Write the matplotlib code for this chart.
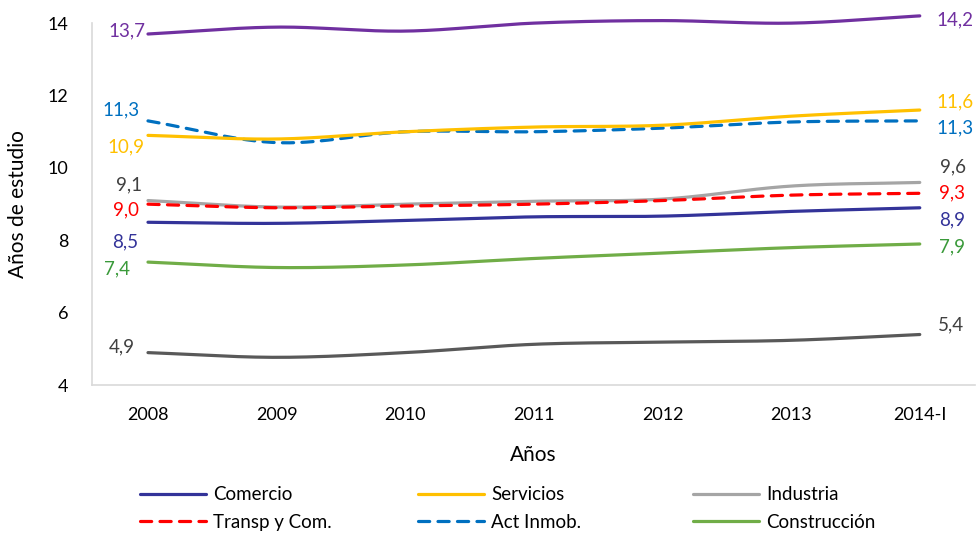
import numpy as np
import matplotlib
matplotlib.use("Agg")
import matplotlib.pyplot as plt

plt.rcParams['font.family'] = ['Lato', 'DejaVu Sans']

years = ["2008", "2009", "2010", "2011", "2012", "2013", "2014-I"]

comercio = [8.5, 8.47, 8.55, 8.65, 8.67, 8.8, 8.9]
servicios = [10.9, 10.8, 11.0, 11.13, 11.18, 11.43, 11.6]
industria = [9.1, 8.92, 9.0, 9.08, 9.14, 9.5, 9.6]
transp = [9.0, 8.9, 8.95, 9.0, 9.1, 9.25, 9.3]
act_inmob = [11.3, 10.7, 11.0, 11.0, 11.1, 11.27, 11.3]
construccion = [7.4, 7.25, 7.32, 7.5, 7.65, 7.8, 7.9]
purple_serie = [13.7, 13.89, 13.78, 14.0, 14.07, 14.0, 14.2]
gris_serie = [4.9, 4.77, 4.9, 5.13, 5.19, 5.24, 5.4]


def smooth(y, n=30):
    # catmull-rom style curve like excel "smoothed line"
    y = np.asarray(y, float)
    x = np.arange(len(y), dtype=float)
    px = np.concatenate([[2*x[0]-x[1]], x, [2*x[-1]-x[-2]]])
    py = np.concatenate([[2*y[0]-y[1]], y, [2*y[-1]-y[-2]]])
    xs, ys = [], []
    for i in range(1, len(px)-2):
        t = np.linspace(0, 1, n, endpoint=(i == len(px)-3))
        t2, t3 = t*t, t*t*t
        for arr, out in ((px, xs), (py, ys)):
            p0, p1, p2, p3 = arr[i-1], arr[i], arr[i+1], arr[i+2]
            out.append(0.5*((2*p1) + (-p0+p2)*t + (2*p0-5*p1+4*p2-p3)*t2 + (-p0+3*p1-3*p2+p3)*t3))
    return np.concatenate(xs), np.concatenate(ys)


fig = plt.figure(figsize=(9.79, 5.38), dpi=100)
ax = fig.add_axes([0.094, 0.284, 0.902, 0.673])

lw = 2.3
series = [
    # values, color, dashed, legend label, label color, left offset, right offset
    (purple_serie, '#7030A0', False, None, '#7030A0', (-0.16, 0.08), (0.27, -0.12)),
    (act_inmob, '#0070C0', True, 'Act Inmob.', '#0070C0', (-0.21, 0.3), (0.27, -0.2)),
    (servicios, '#FFC000', False, 'Servicios', '#FFC000', (-0.17, -0.33), (0.27, 0.22)),
    (industria, '#A5A5A5', False, 'Industria', '#404040', (-0.15, 0.42), (0.26, 0.42)),
    (transp, '#FF0000', True, 'Transp y Com.', '#FF0000', (-0.17, -0.17), (0.25, 0.0)),
    (comercio, '#333399', False, 'Comercio', '#333399', (-0.18, -0.55), (0.25, -0.34)),
    (construccion, '#70AD47', False, 'Construcción', '#3A9A3A', (-0.24, -0.2), (0.25, -0.09)),
    (gris_serie, '#595959', False, None, '#404040', (-0.2, 0.15), (0.24, 0.26)),
]

handles = {}
for vals, col, dashed, lab, lcol, loff, roff in series:
    xs, ys = smooth(vals)
    line, = ax.plot(xs, ys, color=col, lw=lw, clip_on=False,
                    solid_capstyle='round', dash_capstyle='round')
    if dashed:
        line.set_dashes((3.5, 2.6))
    if lab:
        handles[lab] = line
    ax.text(0 + loff[0], vals[0] + loff[1], f"{vals[0]:.1f}".replace('.', ','),
            color=lcol, fontsize=13.5, ha='center', va='center')
    ax.text(6 + roff[0], vals[-1] + roff[1], f"{vals[-1]:.1f}".replace('.', ','),
            color=lcol, fontsize=13.5, ha='center', va='center')

ax.set_xlim(-0.435, 6.43)
ax.set_ylim(4, 14)
ax.set_yticks([4, 6, 8, 10, 12, 14])
ax.set_xticks(range(len(years)))
ax.set_xticklabels(years)
ax.tick_params(length=0, labelsize=13, colors='#000000')
ax.tick_params(axis='x', pad=16)
ax.tick_params(axis='y', pad=17)
for s in ['top', 'right']:
    ax.spines[s].set_visible(False)
for s in ['left', 'bottom']:
    ax.spines[s].set_color('#D9D9D9')
    ax.spines[s].set_linewidth(1.2)

ax.set_ylabel('Años de estudio', fontsize=15)
ax.yaxis.set_label_coords(-0.073, 0.5)
ax.set_xlabel('Años', fontsize=15)
ax.xaxis.set_label_coords(0.5, -0.165)

# legend: three fixed-width columns like excel
columns = [['Comercio', 'Transp y Com.'], ['Servicios', 'Act Inmob.'], ['Industria', 'Construcción']]
col_x = [140, 418, 693]
for names, px in zip(columns, col_x):
    leg = fig.legend([handles[k] for k in names], names, loc='center left',
                     bbox_to_anchor=(px/979, 1 - 508.5/538), frameon=False,
                     fontsize=13.5, handlelength=3.5, handletextpad=0.4,
                     labelspacing=0.55, borderpad=0, borderaxespad=0)

fig.savefig('out.png', dpi=100)
